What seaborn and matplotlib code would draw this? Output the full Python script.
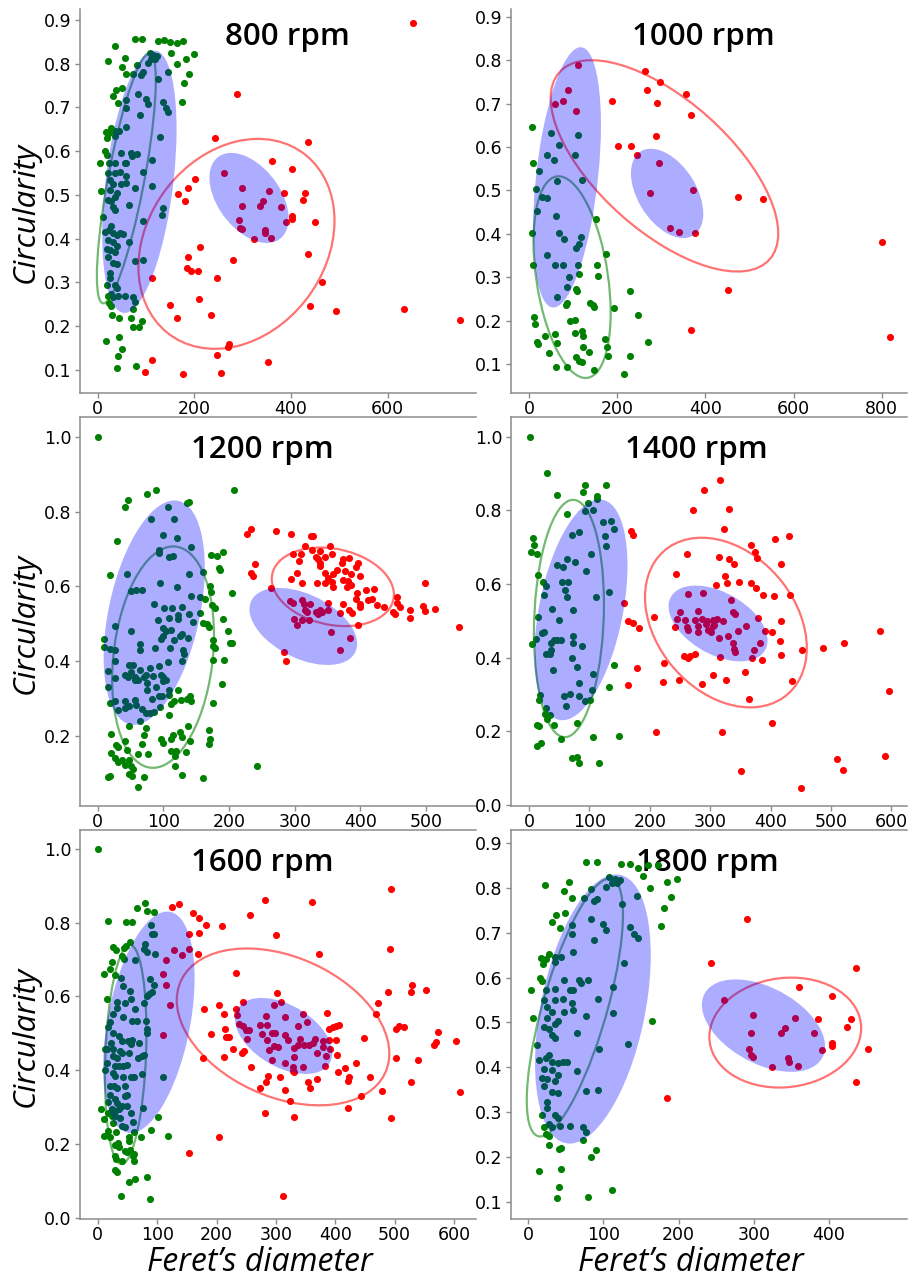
import numpy as np
import matplotlib
matplotlib.use("Agg")
import matplotlib.pyplot as plt
import seaborn as sns
from matplotlib.patches import Circle
from matplotlib.transforms import Affine2D
from matplotlib.ticker import MultipleLocator, FixedLocator, FormatStrFormatter

sns.set_style("white", {"axes.edgecolor": "#8c8c8c", "text.color": "black",
                        "axes.labelcolor": "black", "xtick.color": "black", "ytick.color": "black"})
plt.rcParams["font.family"] = ["DejaVu Sans"]

# points: (Feret's diameter, circularity)
g800 = [(77, .857), (92, .857), (124, .852), (137, .853), (163, .847), (177, .852), (149, .849), (35, .84),
        (152, .824), (199, .822), (182, .811), (163, .80), (189, .777), (179, .756), (175, .713), (146, .782),
        (125, .765), (21, .806), (56, .812), (49, .793), (59, .777), (73, .777), (82, .796), (90, .774),
        (94, .78), (108, .824), (115, .82), (122, .818), (111, .81), (118, .81), (104, .801), (37, .74),
        (49, .744), (32, .725), (42, .71), (58, .717), (58, .698), (84, .73), (99, .719), (103, .707),
        (135, .712), (141, .698), (146, .689), (87, .683), (128, .633), (17, .643), (23, .641), (19, .63),
        (28, .652), (35, .645), (44, .647), (59, .656), (35, .635), (4, .572), (15, .60), (18, .592),
        (23, .572), (35, .574), (47, .595), (59, .572), (56, .572), (68, .595), (80, .594), (70, .588),
        (93, .553), (113, .58), (21, .549), (25, .534), (35, .549), (46, .552), (58, .544), (59, .528),
        (32, .524), (48, .524), (6, .509), (25, .511), (39, .504), (35, .496), (77, .515), (113, .521),
        (21, .489), (28, .485), (32, .473), (35, .466), (65, .477), (11, .449), (94, .441), (135, .47),
        (133, .453), (14, .416), (23, .42), (32, .412), (39, .409), (46, .412), (52, .411), (28, .428),
        (21, .396), (32, .393), (39, .382), (18, .376), (25, .373), (35, .37), (65, .392), (21, .359),
        (32, .344), (39, .342), (77, .348), (93, .35), (25, .322), (25, .309), (18, .294), (35, .294),
        (39, .287), (28, .274), (21, .268), (32, .266), (42, .269), (56, .269), (23, .252), (28, .246),
        (73, .266), (77, .256), (73, .239), (30, .226), (44, .218), (68, .218), (73, .198), (86, .198),
        (92, .212), (17, .166), (44, .174), (50, .148), (42, .132), (39, .105), (79, .109)]
r800 = [(652, .892), (289, .73), (242, .631), (435, .62), (360, .578), (403, .559), (261, .549), (201, .537),
        (187, .515), (298, .515), (354, .509), (385, .505), (428, .505), (165, .502), (180, .487), (341, .485),
        (424, .489), (298, .475), (336, .475), (379, .473), (403, .452), (403, .445), (292, .443), (390, .437),
        (450, .439), (294, .425), (298, .422), (346, .42), (346, .412), (358, .401), (324, .399), (211, .38),
        (187, .359), (436, .365), (280, .35), (184, .332), (193, .326), (208, .325), (246, .309), (113, .309),
        (464, .30), (210, .262), (149, .249), (439, .245), (493, .235), (633, .239), (749, .213), (163, .218),
        (234, .226), (271, .159), (269, .153), (246, .134), (113, .123), (352, .118), (97, .094), (177, .091),
        (256, .092)]

g1000 = [(6, .647), (49, .632), (110, .628), (68, .604), (40, .582), (103, .581), (57, .569), (10, .562),
         (23, .545), (63, .521), (119, .523), (16, .504), (29, .485), (40, .482), (17, .452), (61, .442),
         (152, .435), (6, .402), (68, .402), (79, .388), (118, .392), (113, .376), (107, .367), (40, .35),
         (175, .354), (8, .328), (59, .327), (78, .327), (110, .327), (153, .327), (91, .30), (113, .308),
         (157, .302), (87, .277), (106, .273), (108, .269), (63, .255), (228, .269), (85, .24), (84, .236),
         (138, .24), (144, .236), (148, .232), (193, .228), (11, .208), (248, .212), (14, .192), (93, .198),
         (104, .201), (120, .176), (122, .165), (103, .171), (59, .168), (36, .165), (19, .15), (20, .146),
         (63, .148), (122, .14), (172, .158), (176, .138), (269, .15), (45, .125), (135, .127), (180, .118),
         (228, .119), (106, .117), (113, .107), (119, .104), (61, .094), (87, .094), (148, .085), (216, .076)]
r1000 = [(110, .788), (263, .776), (89, .731), (267, .732), (297, .749), (356, .722), (76, .707), (59, .698),
         (189, .706), (291, .702), (107, .682), (367, .673), (287, .625), (201, .602), (231, .602), (244, .582),
         (295, .563), (274, .494), (371, .50), (474, .484), (530, .48), (320, .413), (340, .403), (377, .402),
         (800, .38), (450, .27), (367, .178), (819, .163)]

g1200 = [(1, 1.0), (88, .859), (75, .848), (46, .83), (41, .813), (208, .859), (136, .823), (139, .826),
         (107, .813), (81, .781), (116, .779), (99, .737), (121, .73), (30, .721), (142, .705), (93, .697),
         (93, .69), (109, .679), (115, .682), (172, .683), (181, .682), (190, .693), (184, .649), (186, .643),
         (18, .63), (44, .634), (139, .632), (160, .638), (95, .609), (120, .599), (171, .601), (173, .585),
         (205, .583), (51, .589), (59, .59), (68, .59), (142, .574), (155, .573), (163, .566), (174, .55),
         (178, .542), (86, .552), (101, .542), (113, .542), (128, .546), (139, .526), (122, .524), (122, .512),
         (109, .516), (155, .529), (145, .505), (160, .503), (167, .50), (170, .491), (190, .514), (26, .493),
         (92, .511), (100, .489), (111, .483), (104, .48), (99, .467), (96, .459), (116, .458), (129, .472),
         (126, .468), (137, .462), (176, .456), (176, .44), (178, .436), (202, .449), (205, .449), (199, .48),
         (10, .46), (9, .438), (19, .432), (26, .43), (50, .48), (65, .447), (64, .431), (87, .435),
         (110, .435), (130, .431), (131, .42), (128, .40), (107, .398), (175, .404), (192, .404), (26, .40),
         (15, .374), (47, .389), (54, .389), (50, .371), (65, .377), (79, .382), (94, .386), (42, .362),
         (46, .358), (57, .358), (71, .358), (84, .36), (96, .362), (100, .358), (27, .356), (57, .351),
         (62, .349), (73, .362), (100, .347), (104, .349), (75, .342), (88, .331), (15, .331), (108, .324),
         (122, .324), (189, .34), (75, .322), (98, .306), (109, .309), (27, .293), (18, .289), (41, .293),
         (56, .297), (82, .30), (93, .306), (111, .285), (116, .293), (127, .297), (136, .30), (140, .306),
         (142, .293), (175, .289), (31, .27), (41, .275), (47, .28), (58, .282), (67, .271), (73, .261),
         (79, .261), (85, .264), (95, .277), (109, .257), (64, .239), (48, .226), (20, .206), (73, .221),
         (71, .203), (125, .212), (138, .226), (169, .215), (171, .193), (169, .179), (42, .186), (67, .179),
         (97, .193), (100, .182), (112, .191), (115, .204), (129, .197), (141, .188), (28, .177), (31, .17),
         (44, .164), (47, .137), (61, .153), (76, .153), (20, .155), (26, .141), (37, .135), (42, .123),
         (51, .121), (31, .13), (54, .112), (52, .092), (47, .099), (16, .09), (19, .093), (71, .09),
         (61, .063), (112, .159), (117, .148), (119, .161), (135, .157), (118, .119), (129, .096), (161, .087),
         (242, .12)]
r1200 = [(234, .753), (228, .74), (272, .748), (295, .74), (325, .734), (328, .736), (315, .707), (298, .686),
         (310, .688), (326, .698), (339, .694), (353, .707), (356, .688), (332, .679), (346, .679), (335, .673),
         (339, .663), (374, .673), (383, .676), (372, .663), (397, .663), (306, .667), (240, .661), (303, .636),
         (234, .637), (236, .628), (339, .655), (346, .637), (365, .643), (377, .641), (394, .652), (359, .634),
         (351, .623), (385, .634), (295, .621), (311, .609), (334, .61), (346, .609), (356, .612), (374, .616),
         (381, .614), (399, .628), (359, .599), (379, .599), (385, .603), (409, .59), (420, .592), (395, .583),
         (264, .596), (374, .554), (394, .566), (400, .554), (412, .563), (418, .566), (425, .551), (436, .545),
         (400, .545), (382, .536), (387, .529), (369, .53), (450, .532), (455, .572), (456, .556), (461, .545),
         (452, .525), (475, .536), (475, .516), (495, .548), (499, .534), (499, .61), (514, .539), (550, .492),
         (396, .496), (293, .56), (298, .556), (311, .563), (314, .554), (323, .552), (316, .538), (318, .532),
         (333, .531), (339, .536), (341, .532), (351, .556), (351, .536), (336, .527), (299, .512), (311, .511),
         (321, .511), (303, .496), (355, .478), (384, .462), (283, .425), (369, .429), (287, .40)]

g1400 = [(2, 1.0), (29, .902), (47, .842), (93, .869), (90, .849), (127, .869), (113, .839), (112, .83),
         (97, .82), (93, .798), (106, .801), (63, .79), (6, .726), (8, .707), (3, .687), (13, .683),
         (71, .733), (83, .742), (123, .769), (135, .771), (141, .751), (125, .731), (128, .703), (102, .683),
         (63, .669), (76, .66), (46, .653), (56, .646), (94, .636), (14, .626), (23, .605), (28, .594),
         (54, .605), (65, .605), (60, .583), (62, .565), (25, .571), (132, .578), (111, .565), (14, .51),
         (38, .533), (72, .53), (50, .503), (12, .452), (21, .467), (25, .47), (42, .449), (47, .447),
         (52, .447), (36, .441), (72, .458), (72, .44), (4, .436), (36, .422), (34, .411), (28, .411),
         (88, .433), (71, .399), (79, .374), (39, .367), (140, .381), (106, .356), (83, .331), (132, .32),
         (104, .313), (18, .299), (57, .295), (68, .302), (83, .296), (93, .282), (101, .286), (17, .284),
         (61, .27), (28, .263), (27, .248), (34, .245), (30, .234), (42, .218), (79, .223), (13, .218),
         (16, .214), (149, .186), (106, .184), (52, .18), (19, .168), (13, .161), (71, .127), (79, .13),
         (82, .114), (115, .114)]
r1400 = [(316, .882), (290, .855), (272, .802), (331, .805), (323, .749), (168, .744), (172, .734), (407, .723),
         (430, .731), (367, .705), (374, .687), (377, .671), (261, .683), (315, .674), (331, .667), (340, .655),
         (417, .655), (243, .628), (325, .622), (327, .604), (348, .606), (309, .598), (367, .603), (376, .589),
         (387, .571), (405, .568), (433, .571), (263, .574), (288, .577), (334, .558), (158, .549), (338, .524),
         (341, .52), (250, .524), (207, .51), (279, .526), (379, .509), (417, .501), (163, .499), (172, .495),
         (182, .48), (245, .504), (259, .503), (275, .503), (286, .506), (295, .501), (304, .503), (312, .506),
         (322, .501), (242, .483), (262, .483), (279, .485), (293, .492), (304, .485), (306, .49), (264, .476),
         (279, .47), (296, .474), (301, .471), (346, .472), (359, .486), (391, .472), (403, .471), (315, .454),
         (330, .458), (337, .441), (382, .441), (415, .445), (340, .424), (341, .415), (372, .422), (257, .404),
         (263, .40), (266, .404), (275, .411), (316, .403), (369, .40), (385, .395), (417, .408), (452, .422),
         (487, .426), (522, .441), (582, .472), (223, .386), (178, .373), (357, .361), (305, .354), (248, .34),
         (326, .34), (436, .338), (164, .327), (221, .334), (287, .329), (364, .288), (596, .309), (403, .222),
         (211, .198), (320, .198), (510, .125), (520, .096), (590, .134), (351, .091), (451, .045)]

g1600 = [(1, 1.0), (79, .852), (66, .84), (83, .831), (94, .829), (18, .804), (48, .803), (57, .803),
         (89, .793), (91, .768), (94, .768), (54, .748), (25, .734), (31, .725), (44, .73), (47, .737),
         (79, .741), (77, .729), (83, .72), (97, .714), (40, .71), (44, .701), (62, .699), (24, .692),
         (21, .675), (10, .662), (29, .657), (39, .649), (88, .647), (94, .631), (42, .627), (92, .612),
         (83, .602), (87, .606), (15, .592), (54, .615), (32, .585), (46, .583), (56, .592), (78, .583),
         (32, .57), (63, .567), (26, .552), (43, .543), (57, .534), (66, .534), (81, .534), (21, .531),
         (83, .511), (83, .502), (18, .516), (26, .502), (35, .493), (40, .48), (51, .48), (56, .471),
         (57, .481), (69, .475), (22, .475), (16, .457), (12, .457), (26, .457), (38, .453), (40, .448),
         (52, .448), (26, .439), (32, .433), (67, .433), (74, .439), (77, .442), (16, .419), (29, .412),
         (35, .412), (43, .412), (50, .414), (12, .401), (26, .392), (29, .385), (42, .383), (56, .381),
         (61, .381), (74, .39), (20, .358), (28, .358), (33, .353), (46, .358), (20, .334), (29, .322),
         (46, .329), (49, .334), (33, .31), (40, .304), (49, .304), (18, .315), (24, .295), (29, .29),
         (35, .295), (6, .295), (76, .299), (29, .277), (38, .272), (56, .283), (26, .256), (59, .259),
         (40, .25), (46, .245), (11, .268), (17, .283), (24, .277), (18, .236), (30, .232), (16, .225),
         (61, .232), (102, .274), (90, .238), (118, .223), (10, .222), (21, .218), (52, .218), (73, .218),
         (53, .209), (34, .203), (29, .197), (36, .193), (46, .182), (54, .184), (49, .178), (61, .173),
         (29, .169), (31, .16), (40, .155), (61, .155), (59, .169), (29, .131), (32, .125), (53, .096),
         (63, .105), (83, .11), (39, .058), (88, .051), (110, .382)]
r1600 = [(494, .892), (281, .86), (361, .857), (125, .842), (137, .851), (160, .825), (170, .812), (256, .821),
         (182, .793), (210, .791), (300, .766), (153, .768), (171, .773), (492, .729), (129, .725), (154, .729),
         (142, .712), (169, .714), (373, .714), (115, .699), (233, .663), (109, .66), (115, .631), (529, .63),
         (552, .617), (489, .613), (528, .612), (302, .61), (309, .586), (472, .582), (244, .585), (121, .577),
         (204, .577), (179, .567), (233, .565), (469, .552), (212, .552), (386, .554), (345, .552), (234, .549),
         (283, .546), (296, .576), (352, .532), (238, .525), (244, .52), (274, .522), (285, .522), (315, .543),
         (337, .52), (401, .52), (407, .522), (396, .516), (508, .52), (515, .516), (502, .511), (573, .505),
         (215, .511), (249, .509), (254, .509), (390, .511), (294, .502), (299, .50), (315, .495), (191, .498),
         (221, .491), (216, .491), (251, .484), (276, .498), (285, .482), (320, .482), (341, .486), (365, .486),
         (380, .48), (389, .482), (402, .482), (449, .487), (603, .478), (569, .477), (567, .468), (296, .466),
         (303, .463), (330, .459), (337, .468), (348, .468), (355, .468), (362, .473), (379, .464), (391, .457),
         (288, .454), (243, .448), (246, .453), (227, .457), (369, .448), (403, .441), (330, .437), (384, .439),
         (178, .433), (212, .437), (502, .433), (539, .428), (293, .427), (316, .421), (435, .421), (258, .41),
         (329, .41), (346, .41), (383, .412), (329, .399), (331, .394), (417, .406), (405, .394), (423, .381),
         (421, .372), (458, .382), (287, .385), (307, .383), (369, .376), (354, .367), (528, .369), (283, .367),
         (274, .353), (358, .353), (443, .331), (316, .346), (479, .344), (610, .342), (323, .317), (421, .299),
         (281, .283), (331, .274), (494, .272), (204, .22), (154, .175), (312, .06), (110, .495)]

g1800 = [(77, .857), (91, .857), (123, .853), (136, .854), (146, .844), (159, .852), (173, .852), (153, .826),
         (198, .82), (184, .813), (162, .80), (190, .779), (180, .756), (177, .715), (145, .781), (125, .765),
         (22, .807), (54, .812), (48, .794), (58, .777), (74, .777), (83, .797), (88, .771), (92, .776),
         (108, .824), (115, .82), (122, .818), (111, .81), (118, .81), (104, .801), (37, .74), (49, .744),
         (32, .725), (42, .71), (58, .717), (58, .698), (84, .73), (99, .719), (103, .707), (135, .712),
         (141, .698), (146, .689), (87, .683), (128, .633), (17, .643), (23, .641), (19, .63), (28, .652),
         (35, .645), (44, .647), (59, .656), (35, .635), (4, .572), (15, .60), (18, .592), (23, .572),
         (35, .574), (47, .595), (59, .572), (56, .572), (68, .595), (80, .594), (70, .588), (93, .553),
         (113, .58), (21, .549), (25, .534), (35, .549), (46, .552), (58, .544), (59, .528), (32, .524),
         (48, .524), (6, .509), (25, .511), (39, .504), (35, .496), (77, .515), (113, .521), (21, .489),
         (28, .485), (32, .473), (35, .466), (65, .477), (11, .449), (94, .441), (165, .503), (133, .453),
         (14, .416), (23, .42), (32, .412), (39, .409), (46, .412), (52, .411), (28, .428), (21, .396),
         (32, .393), (39, .382), (18, .376), (25, .373), (35, .37), (65, .392), (21, .359), (32, .344),
         (39, .342), (77, .348), (93, .35), (25, .322), (25, .309), (18, .294), (35, .294), (39, .287),
         (28, .274), (21, .268), (32, .266), (42, .269), (56, .269), (23, .252), (28, .246), (73, .266),
         (77, .256), (73, .239), (28, .227), (44, .221), (41, .218), (84, .20), (90, .215), (14, .168),
         (43, .174), (41, .134), (38, .109), (79, .111), (112, .126)]
r1800 = [(291, .731), (243, .632), (436, .621), (360, .579), (404, .56), (261, .55), (299, .517), (355, .509),
         (386, .507), (429, .507), (341, .487), (424, .489), (297, .477), (336, .477), (380, .476), (404, .454),
         (404, .448), (294, .442), (391, .439), (452, .44), (296, .427), (299, .424), (346, .42), (347, .413),
         (359, .403), (325, .401), (436, .367), (185, .332)]

# ellipses: centre x, centre y, spread x, spread y, correlation
blue_green = (86, 0.53, 77, 0.30, 0.40)
blue_red = (313, 0.493, 82, 0.103, -0.45)
ell_green = {800: (59, 0.538, 61, 0.286, 0.78), 1000: (97.5, 0.30, 87.5, 0.2325, -0.35),
             1200: (99.5, 0.411, 77.5, 0.296, 0.2), 1400: (66, 0.5065, 58, 0.3225, 0.12),
             1600: (47, 0.443, 35, 0.297, 0.2), 1800: (62, 0.5335, 64, 0.2875, 0.72)}
ell_red = {800: (287, 0.388, 203, 0.24, 0.22), 1000: (307, 0.5565, 258, 0.2435, -0.64),
           1200: (358, 0.599, 93, 0.105, -0.2), 1400: (326, 0.4955, 134, 0.2305, -0.30),
           1600: (312, 0.5175, 179, 0.2125, -0.34), 1800: (342, 0.4775, 101, 0.1225, 0.08)}

green_pts = {800: g800, 1000: g1000, 1200: g1200, 1400: g1400, 1600: g1600, 1800: g1800}
red_pts = {800: r800, 1000: r1000, 1200: r1200, 1400: r1400, 1600: r1600, 1800: r1800}
speeds = [800, 1000, 1200, 1400, 1600, 1800]
xticks = {800: [0, 200, 400, 600], 1000: [0, 200, 400, 600, 800], 1200: [0, 100, 200, 300, 400, 500],
          1400: [0, 100, 200, 300, 400, 500, 600], 1600: [0, 100, 200, 300, 400, 500, 600],
          1800: [0, 100, 200, 300, 400]}

# layout per panel: xlim, ylim, y step, title position
W, H = 917, 1272
cols = [(80, 476), (511, 907)]
rows = [(9, 393), (417, 806), (830, 1219)]
layout = {
    800: ((-37, 783), (0.047, 0.925), 0.1, (0.525, 0.927)),
    1000: ((-41, 857), (0.033, 0.918), 0.1, (0.485, 0.927)),
    1200: ((-27, 576), (0.013, 1.053), 0.2, (0.46, 0.915)),
    1400: ((-30, 626), (-0.003, 1.054), 0.2, (0.467, 0.915)),
    1600: ((-30, 637), (-0.003, 1.051), 0.2, (0.46, 0.915)),
    1800: ((-23, 504), (0.062, 0.929), 0.1, (0.495, 0.915)),
}


def add_ellipse(ax, params, **kw):
    cx, cy, sx, sy, rho = params
    m = np.array([[sx, 0, cx], [rho * sy, sy * np.sqrt(1 - rho ** 2), cy], [0, 0, 1]])
    ax.add_patch(Circle((0, 0), 1, transform=Affine2D(m) + ax.transData, **kw))


fig = plt.figure(figsize=(W / 100, H / 100), dpi=100)

for i, sp in enumerate(speeds):
    r, c = divmod(i, 2)
    x0, x1 = cols[c]
    y0, y1 = rows[r]
    ax = fig.add_axes([x0 / W, 1 - y1 / H, (x1 - x0) / W, (y1 - y0) / H])
    xlim, ylim, ys, tpos = layout[sp]

    gx, gy = zip(*green_pts[sp])
    rx, ry = zip(*red_pts[sp])
    sns.scatterplot(x=list(gx), y=list(gy), color="#008000", s=26, linewidth=0, ax=ax, zorder=2)
    sns.scatterplot(x=list(rx), y=list(ry), color="#ff0000", s=26, linewidth=0, ax=ax, zorder=2)

    add_ellipse(ax, ell_green[sp], fill=False, edgecolor="green", alpha=0.55, lw=1.6, zorder=3)
    add_ellipse(ax, ell_red[sp], fill=False, edgecolor="red", alpha=0.55, lw=1.6, zorder=3)
    add_ellipse(ax, blue_green, facecolor="blue", edgecolor="none", alpha=0.32, zorder=4)
    add_ellipse(ax, blue_red, facecolor="blue", edgecolor="none", alpha=0.32, zorder=4)

    ax.set_xlim(*xlim)
    ax.set_ylim(*ylim)
    ax.xaxis.set_major_locator(FixedLocator(xticks[sp]))
    ax.yaxis.set_major_locator(MultipleLocator(ys))
    ax.yaxis.set_major_formatter(FormatStrFormatter("%.1f"))
    ax.tick_params(labelsize=12.5, length=3.5, width=1, color="#8c8c8c", left=True, bottom=True)
    ax.tick_params(axis="x", pad=1.5)
    ax.tick_params(axis="y", pad=2.5)

    ax.spines["right"].set_visible(False)
    ax.spines["top"].set_visible(r > 0)
    for s in ax.spines.values():
        s.set_linewidth(1.1)

    ax.text(tpos[0], tpos[1], f"{sp} rpm", transform=ax.transAxes, ha="center", va="center",
            fontsize=22.5, family="Open Sans", fontweight="semibold", zorder=1)

    if c == 0:
        ax.set_ylabel("Circularity", fontsize=22.5, family="Open Sans", fontstyle="italic")
        ax.yaxis.set_label_coords(-0.10, 0.47)
    if r == 2:
        ax.set_xlabel("Feret\u2019s diameter", fontsize=23, family="Open Sans", fontstyle="italic")
        ax.xaxis.set_label_coords(0.455, -0.07)

fig.savefig("out.png", dpi=100)
